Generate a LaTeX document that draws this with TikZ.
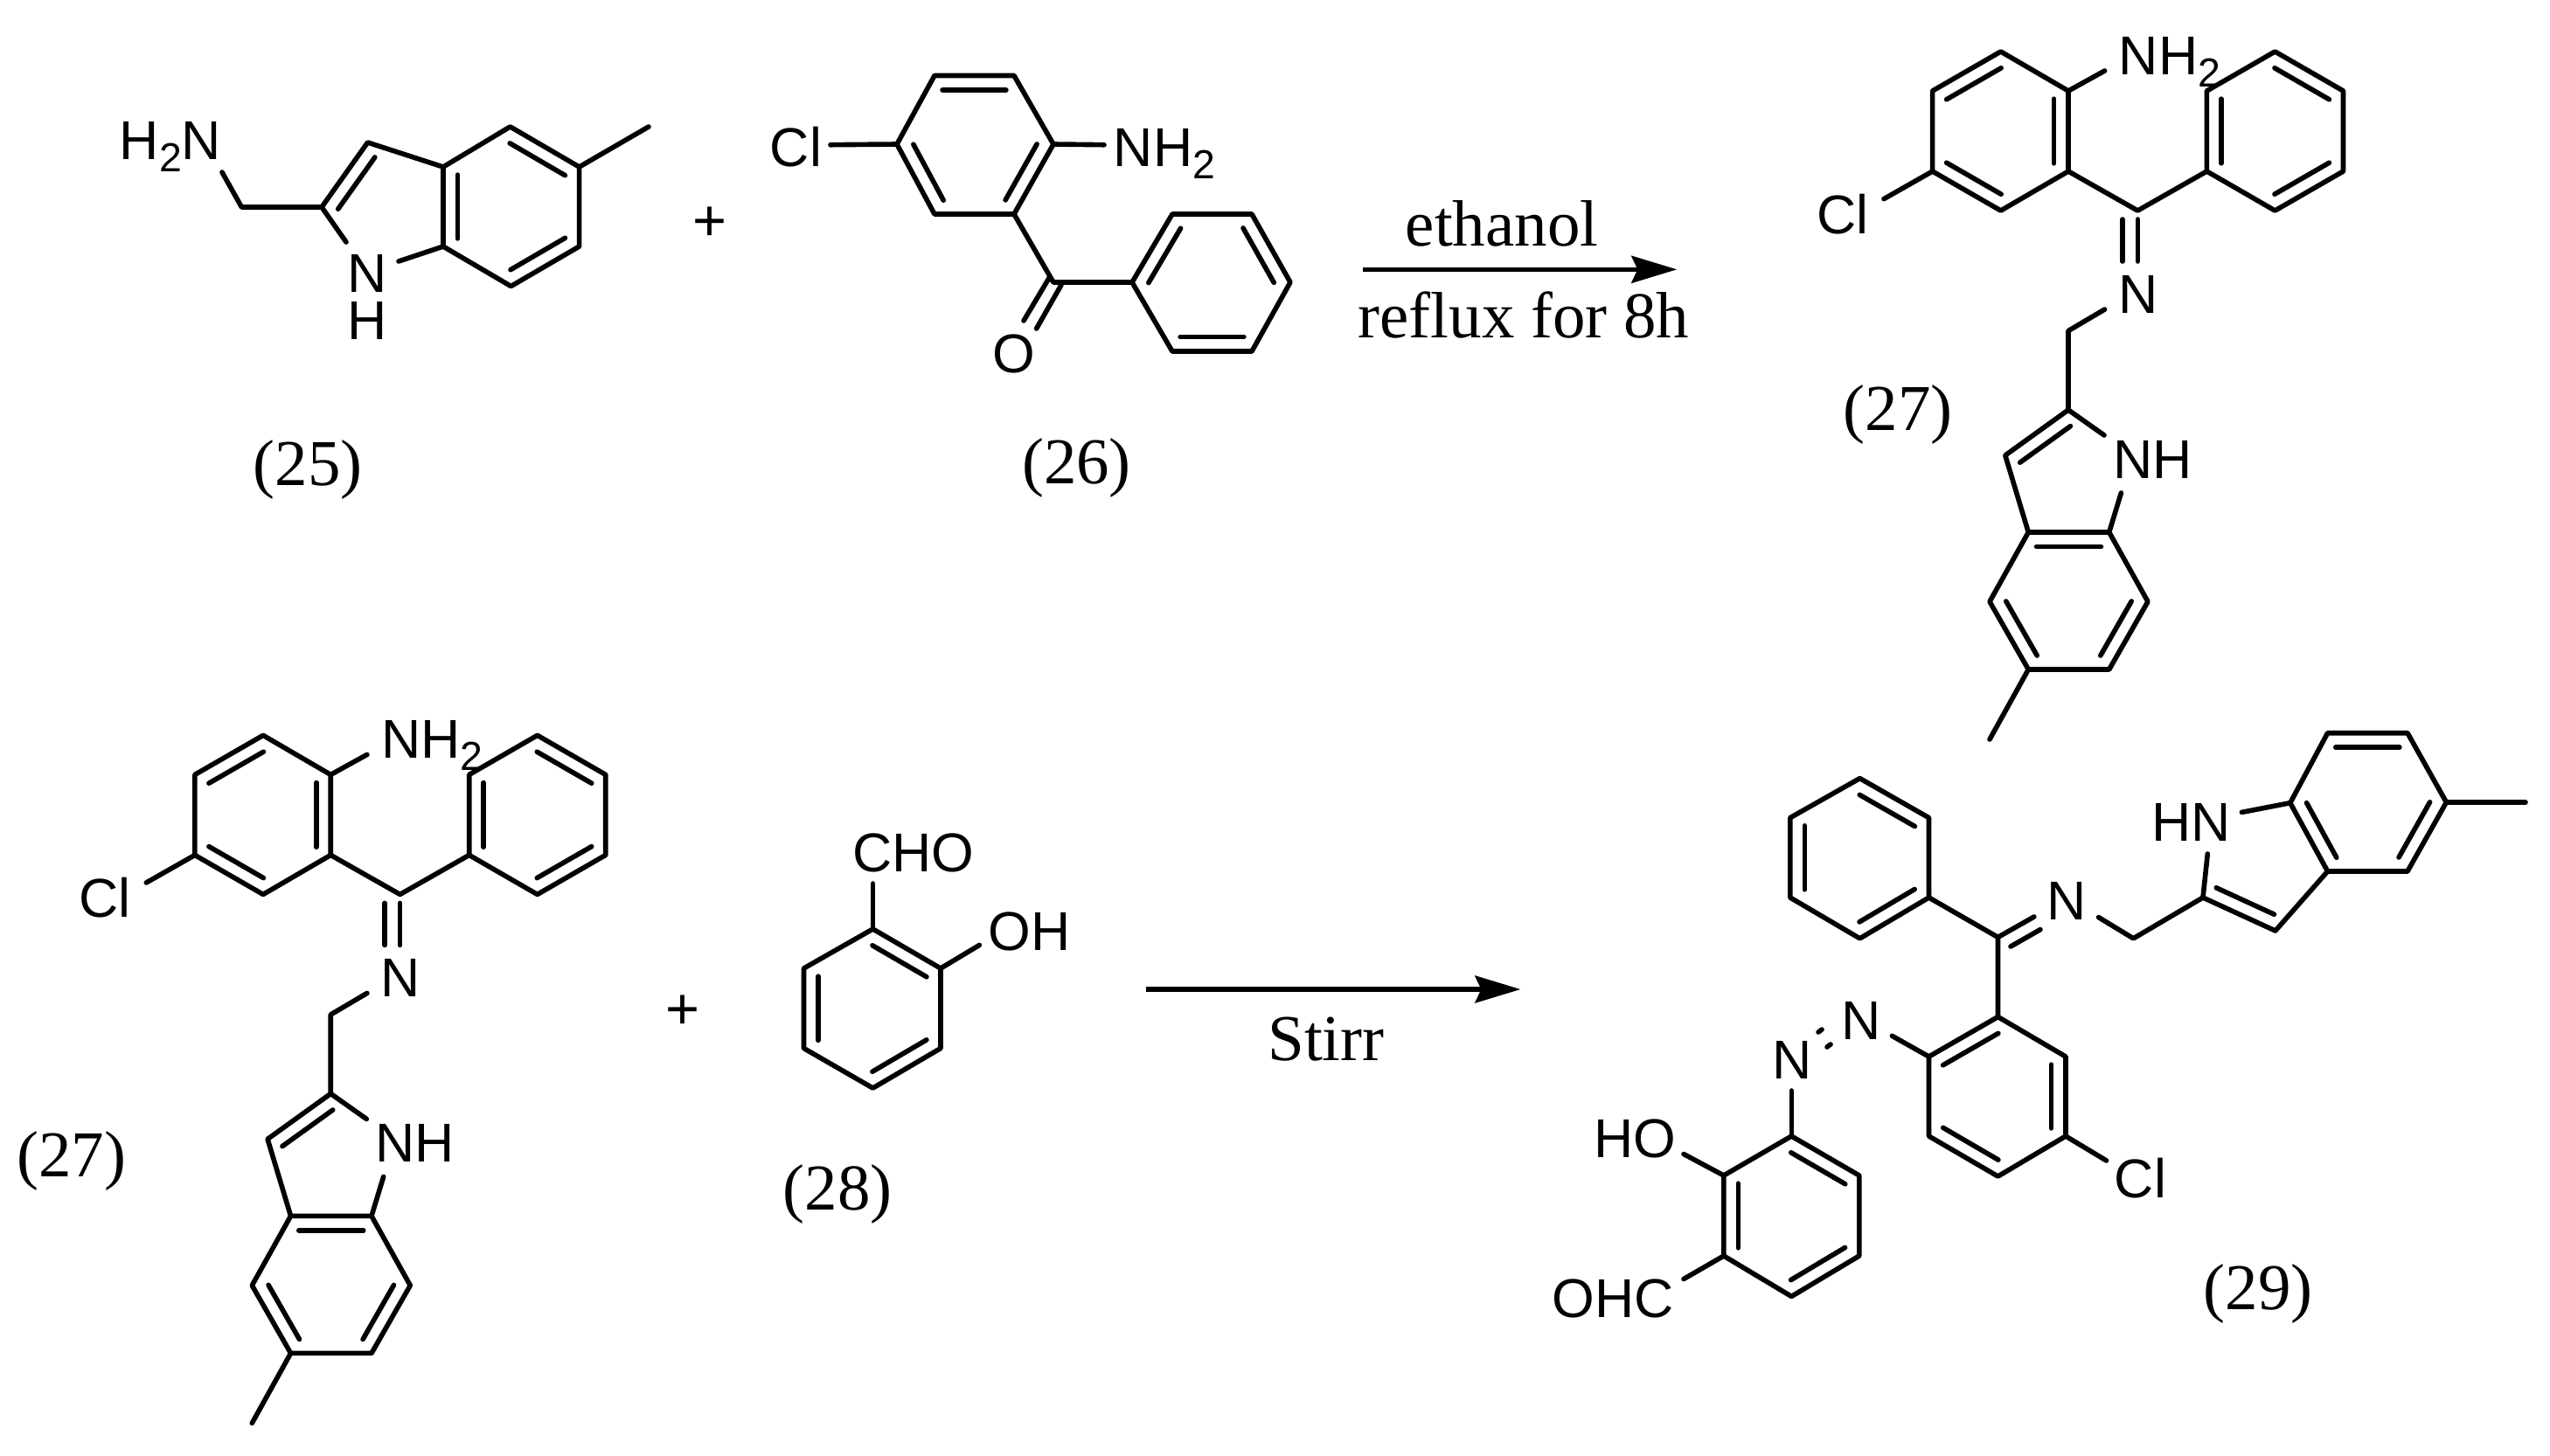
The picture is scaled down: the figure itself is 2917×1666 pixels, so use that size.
\documentclass[tikz,border=0pt]{standalone}
\usepackage{fontspec}
\setmainfont{Liberation Sans}
\newfontfamily\tms{Liberation Serif}
\usetikzlibrary{calc,arrows.meta}
\newcommand\sbs[1]{\raisebox{-0.23em}{\fontsize{13.2}{14}\selectfont #1}}
\tikzset{
  bond/.style={line width=1.6pt,line cap=round,line join=round,black},
  atom/.style={inner sep=0pt,outer sep=0pt,anchor=base,font=\fontsize{17.8}{20}\selectfont},
  caption/.style={inner sep=0pt,outer sep=0pt,anchor=base,font=\tms\fontsize{21.3}{24}\selectfont},
  plus/.style={inner sep=0pt,outer sep=0pt,font=\fontsize{19}{20}\selectfont},
  rxn/.style={line width=1.5pt,black,-{Stealth[length=0.52cm,width=0.31cm,inset=0.07cm]}}
}
\newcommand\sbond[2]{\draw[bond] (#1) -- (#2);}
% inner line of a double bond; a->b runs clockwise round the ring
\newcommand\ibond[2]{\draw[bond] ($(#1)!.1!(#2)!.165cm!-90:(#2)$) -- ($(#2)!.1!(#1)!.165cm!90:(#1)$);}
\newcommand\iminemol[3]{%
\begin{scope}[shift={(#2,#3)}]
  \coordinate (#1-A1) at (2288.7,59);
  \coordinate (#1-A2) at (2366,104);
  \coordinate (#1-A3) at (2366,196);
  \coordinate (#1-A4) at (2288.7,241);
  \coordinate (#1-A5) at (2210.6,196);
  \coordinate (#1-A6) at (2210.6,104);
  \coordinate (#1-B1) at (2524.4,104);
  \coordinate (#1-B2) at (2602.4,59);
  \coordinate (#1-B3) at (2680.5,104);
  \coordinate (#1-B4) at (2680.5,196);
  \coordinate (#1-B5) at (2602.4,241);
  \coordinate (#1-B6) at (2524.4,196);
  \coordinate (#1-C) at (2445.3,241);
  \coordinate (#1-CN1a) at (2445.3,251);
  \coordinate (#1-CN1b) at (2445.3,299);
  \coordinate (#1-CN2a) at (2428,251);
  \coordinate (#1-CN2b) at (2428,299);
  \coordinate (#1-NH2e) at (2407.6,81);
  \coordinate (#1-Cle) at (2155,227.6);
  \coordinate (#1-Ne) at (2407.6,354);
  \coordinate (#1-CH2) at (2366,378.5);
  \coordinate (#1-I2) at (2366,469);
  \coordinate (#1-I3) at (2293.8,521);
  \coordinate (#1-I3a) at (2320.3,609);
  \coordinate (#1-I7a) at (2412.7,609);
  \coordinate (#1-I7) at (2457,688.4);
  \coordinate (#1-I6) at (2412.7,766);
  \coordinate (#1-I5) at (2320.3,766);
  \coordinate (#1-I4) at (2276,688.4);
  \coordinate (#1-Me) at (2276,846);
  \coordinate (#1-NHa) at (2407,498);
  \coordinate (#1-NHb) at (2426.4,564);
  \node[atom] (#1-lNH2) at (2482,85) {NH\sbs{2}};
  \node[atom] (#1-lCl) at (2108,267) {Cl};
  \node[atom] (#1-lN) at (2445.8,358) {N};
  \node[atom] (#1-lNH) at (2462.5,547) {NH};
  \draw[bond] (#1-A1) -- (#1-A2) -- (#1-A3) -- (#1-A4) -- (#1-A5) -- (#1-A6) -- cycle;
  \draw[bond] (#1-B1) -- (#1-B2) -- (#1-B3) -- (#1-B4) -- (#1-B5) -- (#1-B6) -- cycle;
  \ibond{#1-A6}{#1-A1}\ibond{#1-A2}{#1-A3}\ibond{#1-A4}{#1-A5}
  \ibond{#1-B6}{#1-B1}\ibond{#1-B2}{#1-B3}\ibond{#1-B4}{#1-B5}
  \draw[bond] (#1-A3) -- (#1-C) -- (#1-B6);
  \sbond{#1-A2}{#1-NH2e}\sbond{#1-A5}{#1-Cle}
  \sbond{#1-CN1a}{#1-CN1b}\sbond{#1-CN2a}{#1-CN2b}
  \draw[bond] (#1-Ne) -- (#1-CH2) -- (#1-I2) -- (#1-I3) -- (#1-I3a) -- (#1-I7a) -- (#1-I7) -- (#1-I6) -- (#1-I5) -- (#1-I4) -- (#1-I3a);
  \sbond{#1-I2}{#1-NHa}\sbond{#1-I7a}{#1-NHb}\sbond{#1-I5}{#1-Me}
  \ibond{#1-I3}{#1-I2}\ibond{#1-I3a}{#1-I7a}\ibond{#1-I7}{#1-I6}\ibond{#1-I5}{#1-I4}
\end{scope}}
\begin{document}
\begin{tikzpicture}[x=0.01cm,y=-0.01cm]
\useasboundingbox (0,0) rectangle (2917,1666);

% ---------- compound 25
\coordinate (a-NH2e) at (254,197);
\coordinate (a-CH2) at (276.4,237);
\coordinate (a-C2) at (368,237);
\coordinate (a-C3) at (420.6,163);
\coordinate (a-C3a) at (507,191);
\coordinate (a-C4) at (583.6,145);
\coordinate (a-C5) at (662.6,191);
\coordinate (a-Me) at (742,145);
\coordinate (a-C6) at (662.6,282);
\coordinate (a-C7) at (584.5,327.5);
\coordinate (a-C7a) at (507,282);
\coordinate (a-Na) at (396,277);
\coordinate (a-Nb) at (456,299);
\node[atom] (a-lH2N) at (195,182) {H\sbs{2}N};
\node[atom] (a-lN) at (420,334.4) {N};
\node[atom] (a-lH) at (420,388.5) {H};
\draw[bond] (a-NH2e) -- (a-CH2) -- (a-C2) -- (a-C3) -- (a-C3a) -- (a-C4) -- (a-C5) -- (a-C6) -- (a-C7) -- (a-C7a) -- (a-C3a);
\sbond{a-C5}{a-Me}\sbond{a-C2}{a-Na}\sbond{a-C7a}{a-Nb}
\ibond{a-C2}{a-C3}\ibond{a-C4}{a-C5}\ibond{a-C6}{a-C7}\ibond{a-C7a}{a-C3a}
\node[caption] (l25) at (352,555) {(25)};

\node[plus] (p1) at (812,256) {+};

% ---------- compound 26
\coordinate (b-R1) at (1026,165);
\coordinate (b-R2) at (1069,86.5);
\coordinate (b-R3) at (1160,86.5);
\coordinate (b-R4) at (1205,165);
\coordinate (b-R5) at (1160,245);
\coordinate (b-R6) at (1069,245);
\coordinate (b-Cle) at (950,165.7);
\coordinate (b-NH2e) at (1263,165.7);
\coordinate (b-CO) at (1205,323);
\coordinate (b-P1) at (1295,323);
\coordinate (b-P2) at (1341,245);
\coordinate (b-P3) at (1432,245);
\coordinate (b-P4) at (1476,323);
\coordinate (b-P5) at (1432,402);
\coordinate (b-P6) at (1341,402);
\coordinate (b-O1a) at (1201,316.5);
\coordinate (b-O1b) at (1171,367);
\coordinate (b-O2a) at (1214,326);
\coordinate (b-O2b) at (1185.6,376);
\node[atom] (b-lCl) at (910.5,190) {Cl};
\node[atom] (b-lNH2) at (1332,190) {NH\sbs{2}};
\node[atom] (b-lO) at (1160,426) {O};
\draw[bond] (b-R1) -- (b-R2) -- (b-R3) -- (b-R4) -- (b-R5) -- (b-R6) -- cycle;
\draw[bond] (b-P1) -- (b-P2) -- (b-P3) -- (b-P4) -- (b-P5) -- (b-P6) -- cycle;
\ibond{b-R2}{b-R3}\ibond{b-R4}{b-R5}\ibond{b-R6}{b-R1}
\ibond{b-P1}{b-P2}\ibond{b-P3}{b-P4}\ibond{b-P5}{b-P6}
\sbond{b-R1}{b-Cle}\sbond{b-R4}{b-NH2e}
\draw[bond] (b-R5) -- (b-CO) -- (b-P1);
\sbond{b-O1a}{b-O1b}\sbond{b-O2a}{b-O2b}
\node[caption] (l26) at (1231.5,553) {(26)};

% ---------- first reaction arrow
\coordinate (r1s) at (1559.3,308.3);
\coordinate (r1e) at (1918.3,308.3);
\draw[rxn] (r1s) -- (r1e);
\node[caption] (r1t) at (1718,281.7) {ethanol};
\node[caption] (r1b) at (1743,386.7) {reflux for 8h};

% ---------- compound 27, twice
\iminemol{c}{0}{0}
\node[caption] (l27a) at (2171,492.6) {(27)};
\iminemol{d}{-1987.7}{782.4}
\node[caption] (l27b) at (81.6,1346) {(27)};

\node[plus] (p2) at (781.5,1158) {+};

% ---------- compound 28
\coordinate (e-T) at (998.5,1063);
\coordinate (e-UR) at (1076,1108);
\coordinate (e-LR) at (1076,1199.5);
\coordinate (e-B) at (998.5,1245);
\coordinate (e-LL) at (919.5,1199.5);
\coordinate (e-UL) at (919.5,1108);
\coordinate (e-CHOe) at (998.5,1011);
\coordinate (e-OHe) at (1120.4,1081.4);
\node[atom] (e-lCHO) at (1045,997) {CHO};
\node[atom] (e-lOH) at (1177.5,1087) {OH};
\draw[bond] (e-T) -- (e-UR) -- (e-LR) -- (e-B) -- (e-LL) -- (e-UL) -- cycle;
\ibond{e-T}{e-UR}\ibond{e-LR}{e-B}\ibond{e-LL}{e-UL}
\sbond{e-T}{e-CHOe}\sbond{e-UR}{e-OHe}
\node[caption] (l28) at (958,1384) {(28)};

% ---------- second reaction arrow
\coordinate (r2s) at (1311,1132);
\coordinate (r2e) at (1739.4,1132);
\draw[rxn] (r2s) -- (r2e);
\node[caption] (r2b) at (1517,1213) {Stirr};

% ---------- compound 29
\coordinate (f-P1) at (2127.5,890.6);
\coordinate (f-P2) at (2206.5,935.7);
\coordinate (f-P3) at (2206.5,1027);
\coordinate (f-P4) at (2127.5,1073.8);
\coordinate (f-P5) at (2047.8,1027);
\coordinate (f-P6) at (2047.8,935.7);
\coordinate (f-C) at (2285.5,1072.4);
\coordinate (f-CN1) at (2326.8,1049);
\coordinate (f-CN2a) at (2300,1083);
\coordinate (f-CN2b) at (2334,1063.6);
\coordinate (f-Ne) at (2400.6,1049.6);
\coordinate (f-CH2) at (2440.4,1073.8);
\coordinate (f-I2) at (2520,1027);
\coordinate (f-NHa) at (2525.3,977);
\coordinate (f-NHb) at (2564.4,929.4);
\coordinate (f-I3) at (2602.8,1065);
\coordinate (f-I3a) at (2662.6,997);
\coordinate (f-I7a) at (2619.8,918.7);
\coordinate (f-I7) at (2662.6,838.7);
\coordinate (f-I6) at (2754,838.7);
\coordinate (f-I5) at (2798.4,918);
\coordinate (f-I4) at (2754,997);
\coordinate (f-Me) at (2889,918);
\coordinate (f-Q1) at (2285.5,1163.5);
\coordinate (f-Q2) at (2363,1209);
\coordinate (f-Q3) at (2363,1300);
\coordinate (f-Q4) at (2285.5,1346);
\coordinate (f-Q5) at (2206.5,1300);
\coordinate (f-Q6) at (2206.5,1209);
\coordinate (f-Cle) at (2409.5,1328);
\coordinate (f-N1e) at (2164.4,1185.3);
\coordinate (f-NN1a) at (2080,1181);
\coordinate (f-NN1b) at (2084,1178);
\coordinate (f-NN2a) at (2090,1198);
\coordinate (f-NN2b) at (2094,1195);
\coordinate (f-N2e) at (2049.3,1248);
\coordinate (f-R1) at (2049.3,1300);
\coordinate (f-R2) at (2126.8,1345);
\coordinate (f-R3) at (2126.8,1437);
\coordinate (f-R4) at (2049.3,1483.4);
\coordinate (f-R5) at (1971.8,1437);
\coordinate (f-R6) at (1971.8,1345);
\coordinate (f-HOe) at (1926,1320.5);
\coordinate (f-OHCe) at (1926,1463.5);
\node[atom] (f-lN) at (2363.7,1052) {N};
\node[atom] (f-lHN) at (2506.5,962) {HN};
\node[atom] (f-lCl) at (2448.5,1370) {Cl};
\node[atom] (f-lN1) at (2129,1189.7) {N};
\node[atom] (f-lN2) at (2050,1234) {N};
\node[atom] (f-lHO) at (1870.7,1324) {HO};
\node[atom] (f-lOHC) at (1845,1507) {OHC};
\draw[bond] (f-P1) -- (f-P2) -- (f-P3) -- (f-P4) -- (f-P5) -- (f-P6) -- cycle;
\ibond{f-P1}{f-P2}\ibond{f-P3}{f-P4}\ibond{f-P5}{f-P6}
\draw[bond] (f-P3) -- (f-C) -- (f-Q1);
\sbond{f-C}{f-CN1}\sbond{f-CN2a}{f-CN2b}
\draw[bond] (f-Ne) -- (f-CH2) -- (f-I2) -- (f-I3) -- (f-I3a) -- (f-I4) -- (f-I5) -- (f-I6) -- (f-I7) -- (f-I7a) -- (f-I3a);
\sbond{f-I2}{f-NHa}\sbond{f-I7a}{f-NHb}\sbond{f-I5}{f-Me}
\ibond{f-I3}{f-I2}\ibond{f-I3a}{f-I7a}\ibond{f-I7}{f-I6}\ibond{f-I5}{f-I4}
\draw[bond] (f-Q1) -- (f-Q2) -- (f-Q3) -- (f-Q4) -- (f-Q5) -- (f-Q6) -- cycle;
\ibond{f-Q2}{f-Q3}\ibond{f-Q4}{f-Q5}\ibond{f-Q6}{f-Q1}
\sbond{f-Q3}{f-Cle}\sbond{f-Q6}{f-N1e}
\sbond{f-NN1a}{f-NN1b}\sbond{f-NN2a}{f-NN2b}
\sbond{f-N2e}{f-R1}
\draw[bond] (f-R1) -- (f-R2) -- (f-R3) -- (f-R4) -- (f-R5) -- (f-R6) -- cycle;
\ibond{f-R1}{f-R2}\ibond{f-R3}{f-R4}\ibond{f-R5}{f-R6}
\sbond{f-R6}{f-HOe}\sbond{f-R5}{f-OHCe}
\node[caption] (l29) at (2583,1498) {(29)};
\end{tikzpicture}
\end{document}
